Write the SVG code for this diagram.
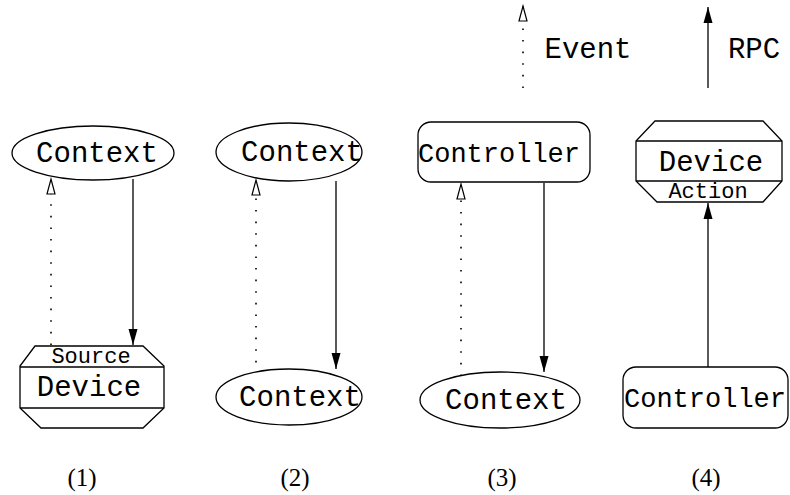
<svg xmlns="http://www.w3.org/2000/svg" width="790" height="495" viewBox="0 0 790 495">
<style>
.sh{fill:#fff;stroke:#000;stroke-width:1.3}
.ln{fill:none;stroke:#000;stroke-width:1.3}
.t{font-family:"Liberation Mono","Courier New",monospace;font-size:29px;text-anchor:middle;fill:#000}
.c{font-family:"Liberation Mono","Courier New",monospace;font-size:27px;text-anchor:middle;fill:#000}
.s{font-family:"Liberation Mono","Courier New",monospace;font-size:22px;text-anchor:middle;fill:#000}
.n{font-family:"Liberation Serif","Times New Roman",serif;font-size:25px;text-anchor:middle;fill:#000}
.ev{fill:none;stroke:#000;stroke-width:1.6;stroke-dasharray:1.6 10;marker-end:url(#open)}
.rpc{fill:none;stroke:#000;stroke-width:1.3;marker-end:url(#fill)}
</style>
<defs>
<marker id="open" markerUnits="userSpaceOnUse" markerWidth="18" markerHeight="12" refX="15" refY="4.5" orient="auto" overflow="visible">
<path d="M0,0.5 L15,4.5 L0,8.5 z" fill="#fff" stroke="#000" stroke-width="1.2"/>
</marker>
<marker id="fill" markerUnits="userSpaceOnUse" markerWidth="18" markerHeight="12" refX="16" refY="4.5" orient="auto" overflow="visible">
<path d="M0,0 L16,4.5 L0,9 z" fill="#000"/>
</marker>
</defs>
<g id="connectors">
<line class="ev" x1="523" y1="88" x2="523" y2="6"/>
<line class="rpc" x1="708" y1="88" x2="708" y2="7"/>
<line class="ev" x1="51" y1="345" x2="51" y2="179"/>
<line class="rpc" x1="133" y1="179" x2="133" y2="345"/>
<line class="ev" x1="256" y1="374" x2="256" y2="180"/>
<line class="rpc" x1="336" y1="181" x2="336" y2="369"/>
<line class="ev" x1="461" y1="376" x2="461" y2="184"/>
<line class="rpc" x1="544" y1="183" x2="544" y2="372"/>
<line class="rpc" x1="708" y1="367" x2="708" y2="203"/>
</g>
<g id="legend">
<text class="t" x="588" y="58">Event</text>
<text class="t" x="754" y="58">RPC</text>
</g>
<g id="ctx1">
<ellipse class="sh" cx="93" cy="153" rx="81" ry="27"/>
<text class="t" x="97" y="162">Context</text>
</g>
<g id="dev1">
<path class="sh" d="M35,346 L143,346 L164,366 L164,408 L143,428 L41,428 L20,408 L20,366 z"/>
<line class="ln" x1="20" y1="367" x2="164" y2="367"/>
<line class="ln" x1="20" y1="408" x2="164" y2="408"/>
<text class="s" x="91" y="363">Source</text>
<text class="t" x="89" y="396">Device</text>
</g>
<g id="ctx2a">
<ellipse class="sh" cx="289" cy="152" rx="73" ry="29"/>
<text class="t" x="302" y="161">Context</text>
</g>
<g id="ctx2b">
<ellipse class="sh" cx="289" cy="397" rx="73" ry="28"/>
<text class="t" x="300" y="406">Context</text>
</g>
<g id="ctrl3">
<rect class="sh" x="418" y="122" width="172" height="60" rx="13"/>
<text class="c" x="499" y="162">Controller</text>
</g>
<g id="ctx3">
<ellipse class="sh" cx="500" cy="400" rx="80" ry="28"/>
<text class="t" x="506" y="409">Context</text>
</g>
<g id="dev4">
<path class="sh" d="M655,121 L763,121 L782,141 L782,181 L763,202 L657,202 L636,181 L636,141 z"/>
<line class="ln" x1="636" y1="141" x2="782" y2="141"/>
<line class="ln" x1="636" y1="181" x2="782" y2="181"/>
<text class="t" x="711" y="171">Device</text>
<text class="s" x="708" y="198">Action</text>
</g>
<g id="ctrl4">
<rect class="sh" x="623" y="367" width="165" height="61" rx="13"/>
<text class="c" x="705" y="407">Controller</text>
</g>
<g id="labels">
<text class="n" x="82" y="486">(1)</text>
<text class="n" x="295" y="486">(2)</text>
<text class="n" x="502" y="486">(3)</text>
<text class="n" x="706" y="486">(4)</text>
</g>
</svg>
